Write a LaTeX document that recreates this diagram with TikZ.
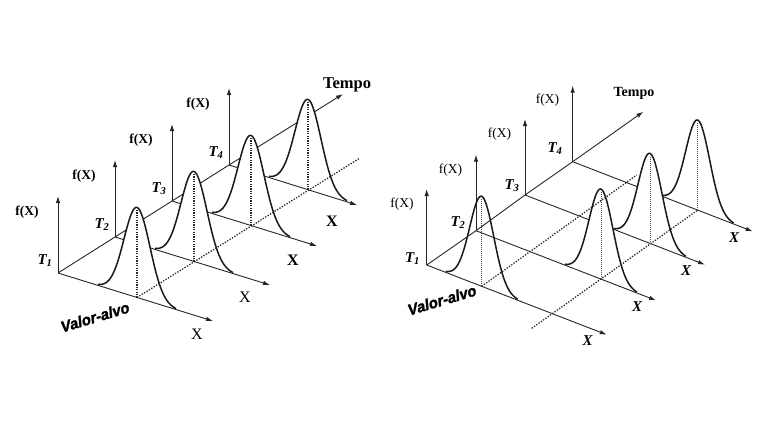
\documentclass[tikz,border=0pt]{standalone}
\usepackage{fontspec}
\setmainfont{Liberation Serif}
\newfontfamily\vasans[BoldItalicFeatures={FakeBold=1.6}]{Liberation Sans}
\usetikzlibrary{arrows.meta}
\tikzset{
  ax/.style={line width=0.9pt, draw=black!85},
  axarr/.style={ax, -{Latex[length=7pt,width=4.5pt]}},
  bellline/.style={line width=1.5pt, draw=black!90},
  dotl/.style={line width=1.3pt, draw=black!85, dash pattern=on 1.3pt off 1.5pt},
  vdotl/.style={line width=1.1pt, draw=black!85, dash pattern=on 1.1pt off 1.3pt},
  vdotr/.style={line width=0.8pt, draw=black!70, dash pattern=on 0.9pt off 1.1pt},
  fxl/.style={font=\bfseries\fontsize{13.5}{14}\selectfont},
  fxr/.style={font=\fontsize{13.5}{14}\selectfont},
  tlab/.style={font=\bfseries\itshape\fontsize{15}{15}\selectfont},
  xl/.style={font=\fontsize{16}{16}\selectfont},
  xlb/.style={font=\bfseries\fontsize{16}{16}\selectfont},
  xr/.style={font=\bfseries\itshape\fontsize{15}{15}\selectfont},
  tempol/.style={font=\bfseries\fontsize{16.5}{17}\selectfont},
  tempor/.style={font=\bfseries\fontsize{14}{14}\selectfont},
  valor/.style={font=\vasans\bfseries\itshape\fontsize{15.5}{16}\selectfont, inner sep=0pt, xscale=0.95},
}
% #1 centre coordinate, #2 slope of X axis, #3 sigma
\newcommand\mybellfill[3]{%
  \fill[white, shift={(#1)}] ({-3*#3},{-3*#3*#2}) -- plot[domain={-3*#3}:{3*#3}, samples=90, smooth]
    (\x, {#2*\x - 90*exp(-(\x*\x)/(2*#3*#3))}) -- ({3*#3},{3*#3*#2}) -- cycle;}
\newcommand\mybelldraw[3]{%
  \draw[bellline, shift={(#1)}] plot[domain={-3*#3}:{3*#3}, samples=90, smooth]
    (\x, {#2*\x - 90*exp(-(\x*\x)/(2*#3*#3))});}
\begin{document}
\begin{tikzpicture}[x=1pt,y=-1pt]
\useasboundingbox (0,0) rectangle (768,432);
% ================= LEFT DIAGRAM =================
\coordinate (LO1) at (58,273);
\coordinate (LO2) at (115,237);
\coordinate (LO3) at (172,201);
\coordinate (LO4) at (229,165);
\coordinate (LTip) at (343,94);
\coordinate (LX1) at (213,321);
\coordinate (LX2) at (270,285);
\coordinate (LX3) at (317,246);
\coordinate (LX4) at (357,205);
\coordinate (LF1) at (58,196);
\coordinate (LF2) at (115,160);
\coordinate (LF3) at (172,124);
\coordinate (LF4) at (229,88);
\coordinate (LC1) at (137,297.5);
\coordinate (LC2) at (194,261.5);
\coordinate (LC3) at (251,225.5);
\coordinate (LC4) at (308,189.5);
\coordinate (LD) at (360,158);
% level 4
\draw[axarr] (LO4) -- (LTip);
\draw[axarr] (LO4) -- (LF4);
\mybellfill{LC4}{0.31}{13}
\draw[axarr] (LO4) -- (LX4);
\mybelldraw{LC4}{0.31}{13}
% level 3
\draw[ax] (LO3) -- (LO4);
\draw[axarr] (LO3) -- (LF3);
\mybellfill{LC3}{0.31}{13}
\draw[axarr] (LO3) -- (LX3);
\mybelldraw{LC3}{0.31}{13}
% level 2
\draw[ax] (LO2) -- (LO3);
\draw[axarr] (LO2) -- (LF2);
\mybellfill{LC2}{0.31}{13}
\draw[axarr] (LO2) -- (LX2);
\mybelldraw{LC2}{0.31}{13}
% level 1
\draw[ax] (LO1) -- (LO2);
\draw[axarr] (LO1) -- (LF1);
\mybellfill{LC1}{0.31}{13}
\draw[axarr] (LO1) -- (LX1);
\mybelldraw{LC1}{0.31}{13}
% target line and centre lines
\draw[dotl] (LC1) -- (LD);
\foreach \c in {LC1,LC2,LC3,LC4} \draw[vdotl] (\c) -- ++(0,-88);
% labels
\node[fxl] (lfx1) at (27,212) {f(X)};
\node[fxl] (lfx2) at (84,176) {f(X)};
\node[fxl] (lfx3) at (141,140) {f(X)};
\node[fxl] (lfx4) at (198,104) {f(X)};
\node[tlab] (lt1) at (45,261) {T\textsubscript{1}};
\node[tlab] (lt2) at (102,225) {T\textsubscript{2}};
\node[tlab] (lt3) at (159,189) {T\textsubscript{3}};
\node[tlab] (lt4) at (216,153) {T\textsubscript{4}};
\node[xl] (lxl1) at (197,334) {X};
\node[xl] (lxl2) at (245,297) {X};
\node[xlb] (lxl3) at (293,260) {X};
\node[xlb] (lxl4) at (332,221) {X};
\node[tempol] (ltempo) at (347,85) {Tempo};
\node[valor, rotate=16] (lvalor) at (95,317) {Valor-alvo};
% ================= RIGHT DIAGRAM =================
\coordinate (RO1) at (426.7,265);
\coordinate (RO2) at (476,230.7);
\coordinate (RO3) at (525,195);
\coordinate (RO4) at (572.7,161.7);
\coordinate (RTip) at (643.3,111.7);
\coordinate (RX1) at (606.7,334.7);
\coordinate (RX2) at (656,300.4);
\coordinate (RX3) at (705,264.7);
\coordinate (RX4) at (752.7,231.4);
\coordinate (RF1) at (426.7,189);
\coordinate (RF2) at (476,154.7);
\coordinate (RF3) at (525,119);
\coordinate (RF4) at (572.7,85.7);
\coordinate (RC1) at (481.7,286.3);
\coordinate (RC2) at (601,279.1);
\coordinate (RC3) at (650,243.4);
\coordinate (RC4) at (697.7,210.1);
\coordinate (RD1) at (636.7,175);
\coordinate (RS2) at (531.7,328.3);
% level 4
\draw[axarr] (RO4) -- (RTip);
\draw[axarr] (RO4) -- (RF4);
\mybellfill{RC4}{0.387}{12}
\draw[axarr] (RO4) -- (RX4);
\mybelldraw{RC4}{0.387}{12}
% level 3
\draw[ax] (RO3) -- (RO4);
\draw[axarr] (RO3) -- (RF3);
\mybellfill{RC3}{0.387}{12}
\draw[axarr] (RO3) -- (RX3);
\mybelldraw{RC3}{0.387}{12}
% level 2
\draw[ax] (RO2) -- (RO3);
\draw[axarr] (RO2) -- (RF2);
\mybellfill{RC2}{0.387}{12}
\draw[axarr] (RO2) -- (RX2);
\mybelldraw{RC2}{0.387}{12}
% level 1 (bell drawn transparent)
\draw[ax] (RO1) -- (RO2);
\draw[axarr] (RO1) -- (RF1);
\draw[axarr] (RO1) -- (RX1);
\mybelldraw{RC1}{0.387}{12}
% target lines and centre lines
\draw[dotl] (RC1) -- (RD1);
\draw[dotl] (RS2) -- (RC4);
\foreach \c in {RC1,RC2,RC3,RC4} \draw[vdotr] (\c) -- ++(0,-88);
% labels
\node[fxr] (rfx1) at (402,204) {f(X)};
\node[fxr] (rfx2) at (450.5,169.7) {f(X)};
\node[fxr] (rfx3) at (499.5,134) {f(X)};
\node[fxr] (rfx4) at (547.5,100.5) {f(X)};
\node[tlab] (rt1) at (412.5,259) {T\textsubscript{1}};
\node[tlab] (rt2) at (458,223) {T\textsubscript{2}};
\node[tlab] (rt3) at (512,186) {T\textsubscript{3}};
\node[tlab] (rt4) at (555,149) {T\textsubscript{4}};
\node[xr] (rxl1) at (587.7,341) {X};
\node[xr] (rxl2) at (637,307) {X};
\node[xr] (rxl3) at (686,271) {X};
\node[xr] (rxl4) at (734,238) {X};
\node[tempor] (rtempo) at (634,93) {Tempo};
\node[valor, rotate=16] (rvalor) at (442,300) {Valor-alvo};
\end{tikzpicture}
\end{document}
